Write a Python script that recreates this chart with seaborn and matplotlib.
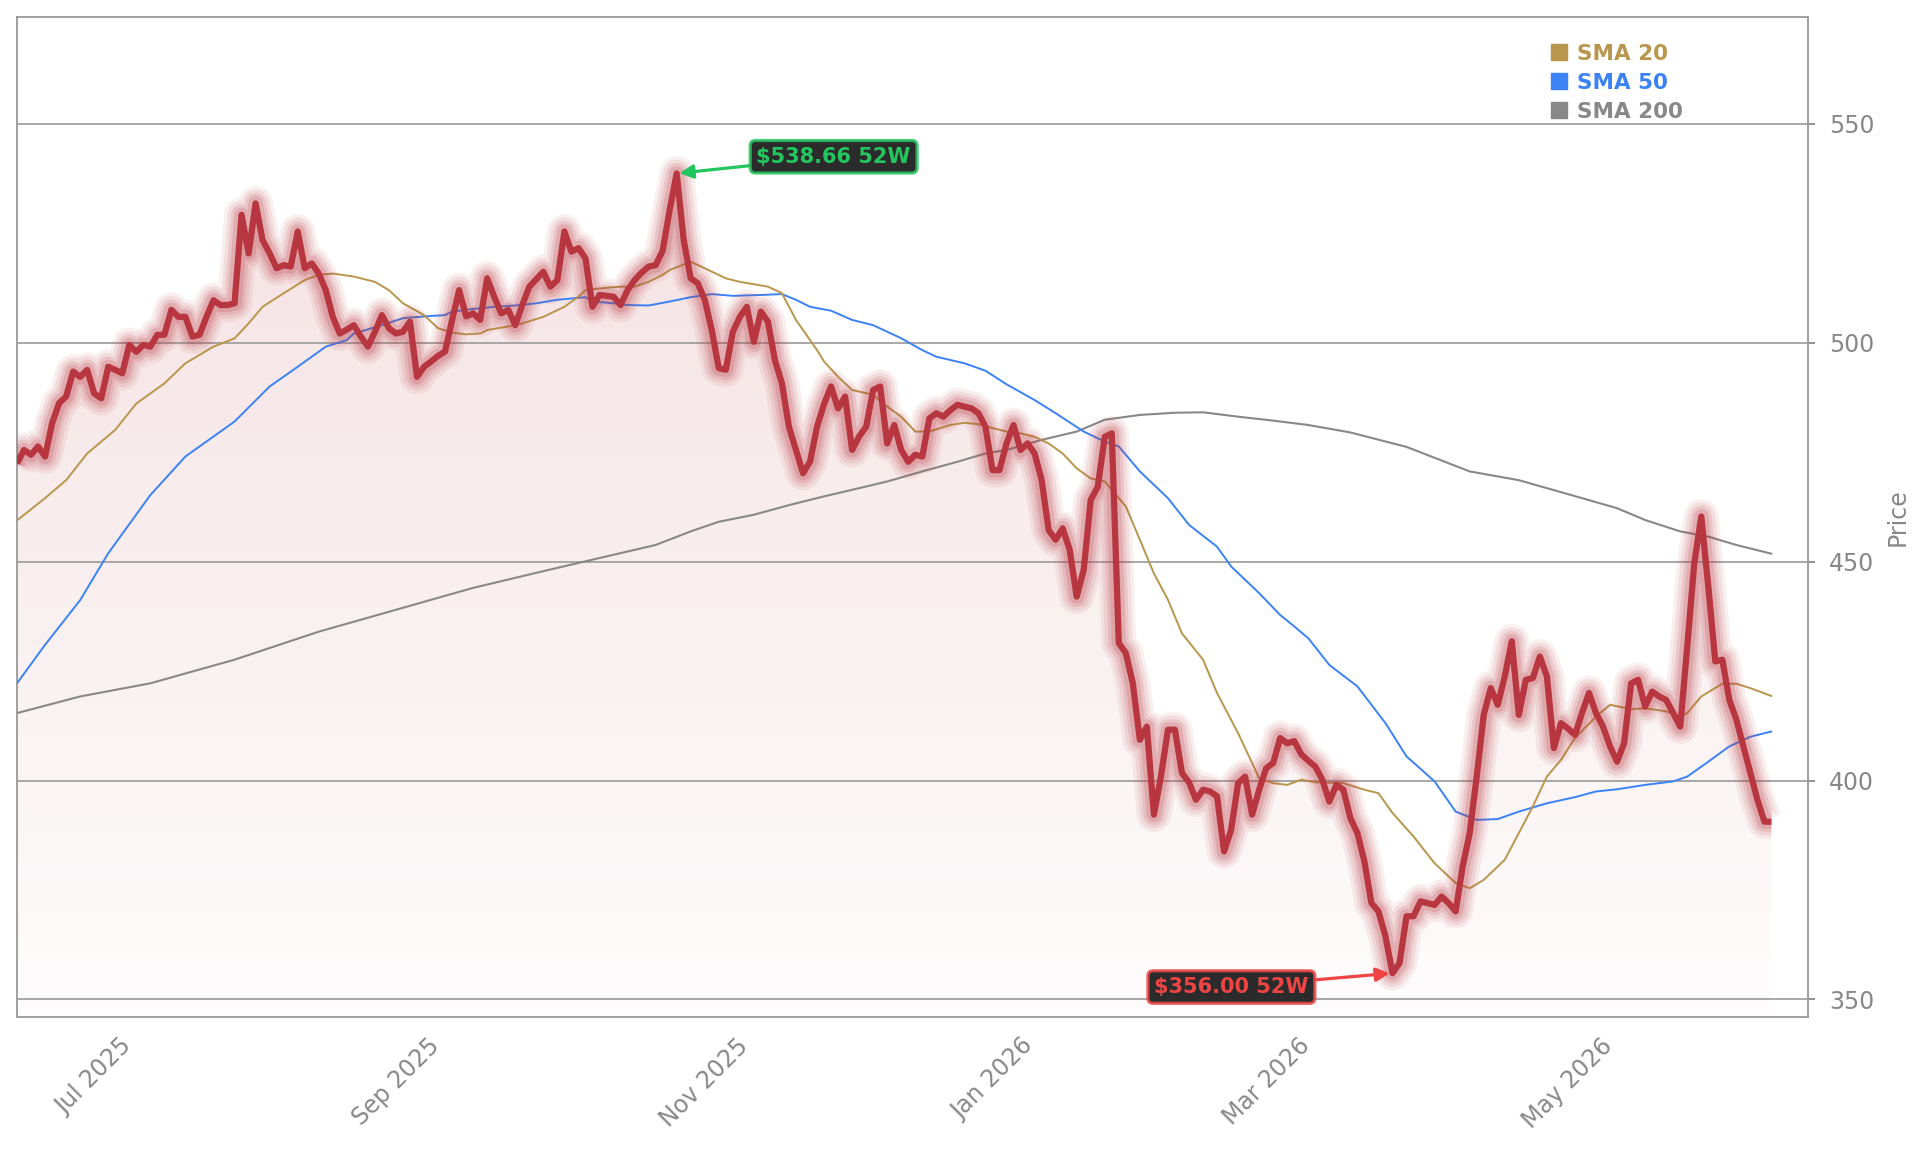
import numpy as np
import pandas as pd
import matplotlib
matplotlib.use('Agg')
import matplotlib.pyplot as plt
import seaborn as sns
from matplotlib.lines import Line2D
from matplotlib.colors import to_rgb

# trading days shown on the chart (weekdays minus exchange holidays)
holidays = ['2025-06-19', '2025-07-04', '2025-09-01', '2025-11-27', '2025-12-25',
            '2026-01-01', '2026-01-19', '2026-02-16', '2026-04-03', '2026-05-25']
days = pd.bdate_range('2025-06-13', '2026-06-12')
days = days[~days.isin(pd.to_datetime(holidays))]

# closing prices, one list per month
price_jun25 = [472.4, 475.5, 474.4, 476.3, 474.0, 481.6, 486.2, 487.7, 493.4, 492.2, 493.8]
price_jul25 = [488.4, 487.3, 494.5, 493.8, 493.0, 499.5, 497.9, 499.5, 499.1, 501.8, 501.8,
               507.5, 505.9, 505.9, 501.4, 501.8, 505.9, 509.7, 508.6, 508.6, 509.0, 529.2]
price_aug25 = [520.4, 531.8, 523.4, 520.4, 517.0, 517.7, 517.4, 525.4, 517.0, 518.1, 515.8,
               512.0, 505.9, 502.1, 503.0, 504.0, 501.4, 499.1, 502.5, 506.3, 503.3]
price_sep25 = [502.1, 502.5, 504.8, 492.2, 494.5, 495.7, 497.0, 498.0, 505.2, 512.0, 506.0,
               506.7, 505.2, 514.7, 510.5, 506.7, 507.5, 504.0, 508.6, 512.8, 514.5]
price_oct25 = [516.2, 512.8, 514.3, 525.4, 520.8, 521.6, 519.3, 508.2, 510.9, 510.7, 510.5,
               508.6, 512.0, 514.3, 516.0, 517.4, 517.7, 521.0, 530.3, 538.66, 523.5, 514.7, 513.6]
price_nov25 = [509.8, 502.9, 494.2, 493.8, 502.5, 505.9, 508.2, 500.2, 507.1, 504.8, 496.0,
               490.7, 480.8, 475.5, 470.2, 472.8, 480.8, 486.0, 490.0]
price_dec25 = [485.0, 487.7, 475.5, 478.6, 480.8, 489.2, 490.0, 477.0, 481.2, 475.5, 472.8,
               474.4, 474.0, 482.7, 483.9, 483.1, 484.6, 485.8, 485.4, 485.0, 483.9, 480.8]
price_jan26 = [470.9, 470.9, 477.0, 481.2, 475.5, 477.0, 474.7, 468.7, 457.2, 455.0, 457.6,
               452.7, 442.0, 448.1, 464.1, 467.1, 478.5, 479.3, 431.4, 429.1]
price_feb26 = [422.2, 409.3, 412.3, 392.2, 400.9, 411.6, 411.6, 401.7, 399.6, 395.6, 397.9,
               397.5, 396.4, 383.8, 388.7, 399.4, 400.9, 392.2, 397.9]
price_mar26 = [402.8, 404.0, 409.7, 408.5, 409.0, 406.0, 404.5, 403.2, 400.2, 395.2, 399.0,
               397.9, 391.4, 388.0, 381.5, 372.0, 370.1, 364.4, 356.0, 358.3, 369.0, 369.0]
price_apr26 = [372.4, 372.0, 371.6, 373.5, 372.0, 370.1, 380.4, 388.0, 400.9, 415.0, 421.1,
               417.3, 423.8, 431.8, 415.0, 423.0, 423.4, 428.3, 423.8, 407.4, 413.1]
price_may26 = [411.9, 410.4, 415.4, 420.0, 415.4, 412.3, 407.8, 404.3, 408.5, 422.2, 423.0,
               416.9, 420.3, 419.2, 418.4, 415.4, 412.3, 430.6, 449.6, 460.3]
price_jun26 = [444.3, 427.2, 427.6, 418.4, 413.9, 407.8, 401.7, 395.6, 390.6, 390.6]

# moving averages, sampled along the chart (trading-day number, value)
sma20_day = [0, 4, 7, 10, 14, 17, 21, 24, 28, 31, 33, 35, 38, 41, 43, 45, 48, 51, 53, 55, 58,
             60, 62, 64, 66, 67, 70, 72, 75, 78, 80, 81, 83, 86, 88, 90, 92, 93, 96, 98, 101,
             103, 107, 109, 111, 114, 115, 117, 119, 122, 124, 126, 128, 130, 133, 135, 137,
             139, 141, 143, 145, 147, 149, 151, 153, 155, 158, 160, 162, 164, 166, 169, 171,
             174, 176, 177, 179, 181, 183, 185, 189, 192, 194, 196, 199, 202, 205, 207, 209,
             212, 214, 216, 218, 220, 222, 225, 227, 230, 232, 235, 237, 238, 240, 243, 245,
             247, 250]
sma20 = [459.4, 464.5, 468.6, 474.7, 480.1, 486.1, 490.7, 495.3, 499.1, 501.0, 504.4, 508.2,
         511.3, 514.3, 515.5, 515.8, 515.1, 513.9, 512.0, 509.0, 506.3, 503.3, 502.3, 501.9,
         502.1, 502.9, 503.7, 504.4, 505.9, 508.2, 510.5, 512.0, 512.4, 512.8, 512.8, 513.9,
         515.5, 516.6, 518.5, 517.0, 514.7, 513.9, 512.8, 511.3, 505.2, 498.3, 495.7, 492.2,
         489.2, 488.1, 485.4, 483.1, 479.7, 479.7, 481.2, 481.7, 481.4, 480.5, 479.7, 479.3,
         478.5, 477.0, 474.7, 471.3, 469.0, 468.3, 462.6, 455.0, 447.3, 441.3, 433.6, 427.6,
         420.0, 410.8, 404.0, 400.5, 399.4, 399.0, 400.2, 399.6, 399.4, 397.9, 397.1, 392.6,
         387.2, 381.1, 376.6, 375.4, 377.3, 381.9, 388.0, 394.1, 400.9, 404.7, 409.7, 414.6,
         417.3, 416.3, 416.5, 415.8, 414.6, 415.4, 419.2, 422.1, 422.1, 421.1, 419.3]

sma50_day = [0, 4, 9, 13, 19, 24, 31, 36, 40, 44, 47, 48, 52, 55, 58, 61, 62, 65, 68, 71, 74,
             77, 79, 81, 82, 85, 87, 90, 93, 96, 99, 102, 106, 109, 111, 113, 116, 119, 122,
             126, 129, 131, 135, 138, 141, 145, 148, 152, 155, 157, 160, 164, 167, 171, 173,
             177, 180, 182, 184, 187, 191, 195, 198, 202, 205, 208, 211, 214, 218, 222, 225,
             228, 232, 236, 238, 241, 244, 247, 250]
sma50 = [422.2, 431.0, 441.2, 451.9, 465.2, 474.0, 482.0, 490.0, 494.5, 499.1, 500.6, 502.1,
         504.0, 505.6, 506.0, 506.3, 507.1, 507.7, 508.2, 508.5, 509.0, 509.8, 510.1, 510.4,
         509.4, 509.0, 508.6, 508.5, 509.4, 510.4, 511.1, 510.7, 510.9, 511.1, 509.8, 508.2,
         507.3, 505.2, 504.0, 501.0, 498.3, 496.8, 495.3, 493.6, 490.5, 486.9, 483.9, 479.7,
         477.4, 476.3, 470.6, 464.5, 458.4, 453.4, 448.9, 442.8, 437.8, 435.2, 432.5, 426.4,
         421.5, 413.1, 405.5, 399.8, 392.9, 391.0, 391.2, 392.9, 394.8, 396.2, 397.5, 398.0,
         399.0, 399.8, 400.9, 404.3, 407.8, 410.0, 411.2]

sma200_day = [0, 9, 19, 31, 43, 54, 65, 76, 91, 96, 100, 105, 110, 115, 119, 124, 129, 134,
              138, 141, 146, 151, 155, 160, 165, 169, 174, 179, 184, 190, 198, 207, 214, 223,
              228, 232, 237, 241, 245, 250]
sma200 = [415.4, 419.2, 422.2, 427.6, 434.0, 439.0, 444.0, 448.2, 453.8, 456.9, 459.1, 460.7,
          462.9, 464.9, 466.4, 468.3, 470.6, 472.8, 474.7, 475.5, 477.8, 479.7, 482.4, 483.5,
          484.0, 484.1, 483.1, 482.2, 481.2, 479.5, 476.2, 470.6, 468.6, 464.5, 462.2, 459.5,
          456.9, 455.7, 453.8, 451.8]

price = np.array(price_jun25 + price_jul25 + price_aug25 + price_sep25 + price_oct25 +
                 price_nov25 + price_dec25 + price_jan26 + price_feb26 + price_mar26 +
                 price_apr26 + price_may26 + price_jun26)
x = np.arange(len(price))

RED = '#b8363f'
GOLD = '#b9964b'
BLUE = '#3b82f6'
GRAY = '#888888'
GREEN = '#22c55e'
LOSS = '#ef4444'

sns.set_theme(style='white')
plt.rcParams['font.family'] = ['DejaVu Sans']

fig = plt.figure(figsize=(19.21, 11.53), dpi=100)
ax = fig.add_axes([0.00885, 0.118, 0.9323, 0.8673])
ymin, ymax = 346.0, 574.4

# gradient area under the price
fill = ax.fill_between(x, price, ymin, color='none', lw=0)
grad = np.zeros((256, 1, 4))
grad[..., :3] = to_rgb(RED)
grad[..., 3] = np.linspace(0.17, 0.015, 256)[:, None]
im = ax.imshow(grad, extent=[x[0], x[-1], ymin, ymax], aspect='auto', origin='upper', zorder=0.5)
im.set_clip_path(fill.get_paths()[0], transform=ax.transData)

# moving averages
sns.lineplot(x=sma200_day, y=sma200, ax=ax, color=GRAY, lw=1.5, zorder=3)
sns.lineplot(x=sma50_day, y=sma50, ax=ax, color=BLUE, lw=1.4, zorder=3)
sns.lineplot(x=sma20_day, y=sma20, ax=ax, color=GOLD, lw=1.4, zorder=3)

# glowing price line
for lw, a in [(25, 0.08), (20, 0.1), (15, 0.13), (10.5, 0.17)]:
    sns.lineplot(x=x, y=price, ax=ax, color=RED, lw=lw, alpha=a, zorder=4,
                 solid_joinstyle='round', solid_capstyle='butt')
sns.lineplot(x=x, y=price, ax=ax, color=RED, lw=4.5, zorder=5,
             solid_joinstyle='round', solid_capstyle='butt')

ax.set_xlim(0, 255.2)
ax.set_ylim(ymin, ymax)

# 52 week high / low
imax, imin = int(price.argmax()), int(price.argmin())
for idx, col, off in [(imax, GREEN, (113, 12)), (imin, LOSS, (-116, -10))]:
    ax.annotate(f'${price[idx]:.2f} 52W', xy=(idx, price[idx]), xytext=off,
                textcoords='offset points', ha='center', va='center',
                color=col, fontsize=15, fontweight='bold', zorder=10,
                bbox=dict(boxstyle='round,pad=0.3,rounding_size=0.25', fc='#2b2b2b',
                          ec=to_rgb(col) + (0.8,), lw=2.4),
                arrowprops=dict(arrowstyle='-|>', color=col, lw=2.3, mutation_scale=20,
                                shrinkA=0, shrinkB=2))

# axes styling
ax.yaxis.tick_right()
ax.yaxis.set_label_position('right')
ax.set_yticks([350, 400, 450, 500, 550])
ax.set_ylabel('Price', color=GRAY, fontsize=17, labelpad=8,
              family=['Liberation Sans Narrow', 'DejaVu Sans'])
ax.set_xlabel('')
month_first = pd.Series(x, index=days).groupby([days.year, days.month]).first()
tick_pos, tick_lab = [], []
for (yr, mo), pos in month_first.items():
    if mo % 2 == 1:
        tick_pos.append(pos)
        tick_lab.append(pd.Timestamp(year=yr, month=mo, day=1).strftime('%b %Y'))
ax.set_xticks(tick_pos)
ax.set_xticklabels(tick_lab, rotation=45)
ax.tick_params(axis='both', colors=GRAY, labelsize=17, length=5, width=1.3, direction='out')
ax.tick_params(axis='y', pad=10)
ax.tick_params(axis='x', pad=7)
ax.grid(axis='y', color='#999999', lw=1.2)
ax.grid(axis='x', visible=False)
ax.set_axisbelow('line')
for s in ax.spines.values():
    s.set_color('#999999')
    s.set_linewidth(1.3)

handles = [Line2D([], [], marker='s', ls='none', color=c, markersize=12) for c in (GOLD, BLUE, GRAY)]
ax.legend(handles, ['SMA 20', 'SMA 50', 'SMA 200'], loc='upper left',
          bbox_to_anchor=(0.856, 0.973), frameon=False, labelcolor=[GOLD, BLUE, GRAY],
          prop={'weight': 'bold', 'size': 15.5}, handlelength=0.8, handletextpad=0.45,
          labelspacing=0.42, borderaxespad=0, borderpad=0)

fig.savefig('out.png', dpi=100)
